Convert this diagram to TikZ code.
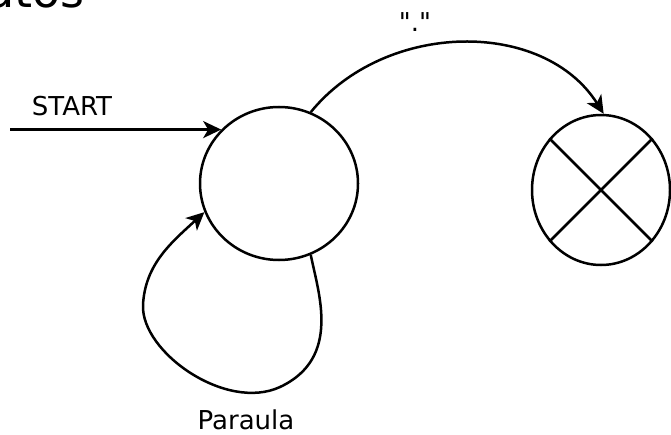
\documentclass[tikz,border=0pt]{standalone}
\usepackage{fontspec}
\setmainfont{DejaVu Sans}[Ligatures=TeXOff]
\usetikzlibrary{arrows.meta,shapes.geometric}

\tikzset{
  state/.style={draw, ellipse, line width=2.5pt, inner sep=0pt},
  edge/.style={line width=2.5pt, -{Stealth[length=18pt,width=17pt,inset=5pt]}},
  lbl/.style={inner sep=0pt, font=\fontsize{26}{30}\selectfont},
}

\begin{document}
\begin{tikzpicture}[x=1pt,y=1pt]
  \clip (0,0) rectangle (671,434);
  \fill[white] (0,0) rectangle (671,434);

  % title, only its lower edge falls inside the page
  \node[inner sep=0pt, anchor=base east, font=\fontsize{46}{50}\selectfont] (title) at (85,426) {atos};

  % states
  \node[state, minimum width=158pt, minimum height=153pt] (q0) at (279,250.5) {};
  \node[state, minimum width=138pt, minimum height=150pt] (q1) at (601,244) {};
  \draw[line width=2.5pt] (q1.135) -- (q1.-45);
  \draw[line width=2.5pt] (q1.45) -- (q1.-135);

  % initial arrow
  \path (q0.137.6) coordinate (e0);
  \coordinate (s0) at (e0 -| 10,0);
  \draw[edge] (s0) -- (e0);
  \node[lbl, anchor=base] (startlbl) at (72,318) {START};

  % transition on "."
  \draw[edge] (q0.66.6) .. controls +(75,92) and +(-60,95) .. (q1.88.5);
  \node[lbl, anchor=base] (dotlbl) at (415,402) {"."};

  % self loop
  \draw[edge] (q0.-66.6)
      .. controls (318,142) and (342,76) .. (280,47)
      .. controls (226,22) and (141,82) .. (143,129)
      .. controls (145,170) and (172,192) .. (q0.201.7);
  \node[lbl, anchor=base] (looplbl) at (246,5) {Paraula};
\end{tikzpicture}
\end{document}
